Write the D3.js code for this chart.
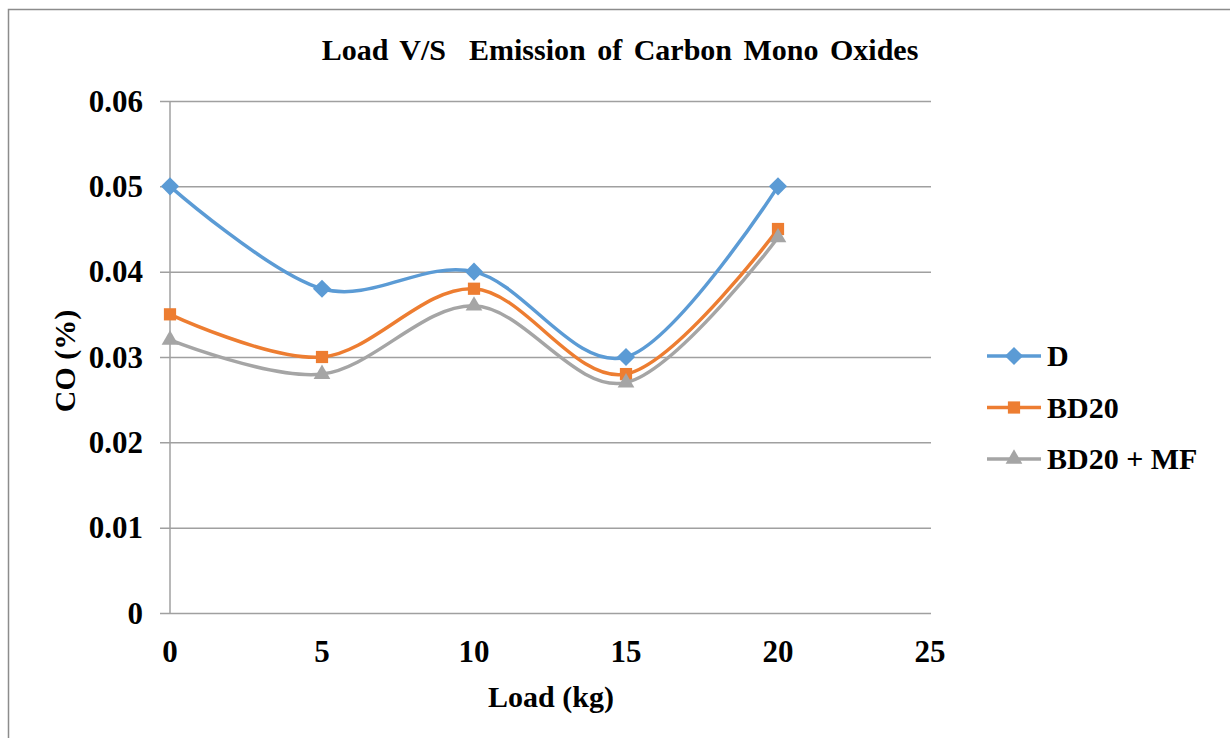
<!DOCTYPE html>
<html>
<head>
<meta charset="utf-8">
<script src="https://cdn.jsdelivr.net/npm/d3@7"></script>
<style>
  body { margin: 0; background: #fff; }
  svg { display: block; }
  text { font-family: "Liberation Serif", "Times New Roman", serif; font-weight: bold; fill: #000; }
</style>
</head>
<body>
<div id="chart"></div>
<script>
// data
const loads = [0, 5, 10, 15, 20];
const seriesNames = ["D", "BD20", "BD20 + MF"];
const dValues = [0.050, 0.038, 0.040, 0.030, 0.050];
const bd20Values = [0.035, 0.030, 0.038, 0.028, 0.045];
const bd20mfValues = [0.032, 0.028, 0.036, 0.027, 0.044];
const yTicks = [0, 0.01, 0.02, 0.03, 0.04, 0.05, 0.06];
const xTicks = [0, 5, 10, 15, 20, 25];
const colors = ["#5B9BD5", "#ED7D31", "#A5A5A5"];
const symbols = [d3.symbolDiamond2, d3.symbolSquare2, d3.symbolTriangle2];
const symSizes = [210, 190, 200];

var width = 1230,
  height = 738,
  margin = { top: 101, right: 300, bottom: 125, left: 170 };

const series = seriesNames.map((name, i) => ({
  name: name,
  values: [dValues, bd20Values, bd20mfValues][i].map((v, j) => ({ x: loads[j], y: v }))
}));

var svg = d3.select("#chart") // create the SVG
  .append("svg")
  .attr("width", width)
  .attr("height", height);

svg.append("rect") // chart frame
  .attr("x", 8.5)
  .attr("y", 9.5)
  .attr("width", width + 20)
  .attr("height", height + 20)
  .attr("fill", "none")
  .attr("stroke", "#8c8c8c")
  .attr("stroke-width", 1.5);

const x = d3.scaleLinear() // x axis scale
  .domain([0, 25])
  .range([margin.left, width - margin.right]);

var y = d3.scaleLinear() // y axis scale
  .domain([0, 0.06])
  .range([height - margin.bottom, margin.top]);

svg.append("g") // gridlines + y ticks
  .attr("transform", `translate(${margin.left},0)`)
  .call(d3.axisLeft(y).tickValues(yTicks).tickFormat(""))
  .call(g => g.select(".domain").remove())
  .call(g => g.selectAll(".tick line")
    .attr("x1", -10)
    .attr("x2", x(25) + 1 - margin.left)
    .attr("stroke", "#a0a0a0")
    .attr("stroke-width", 1.5));

svg.selectAll(".ylab") // y tick labels
  .data(yTicks)
  .enter()
  .append("text")
  .attr("class", "ylab")
  .attr("x", 143)
  .attr("y", d => y(d))
  .attr("dy", "0.34em")
  .attr("text-anchor", "end")
  .style("font-size", "31px")
  .text(d => d);

svg.append("line") // y axis line
  .attr("x1", margin.left)
  .attr("x2", margin.left)
  .attr("y1", y(0.06))
  .attr("y2", y(0))
  .attr("stroke", "#a0a0a0")
  .attr("stroke-width", 1.5);

svg.selectAll(".xlab") // x tick labels
  .data(xTicks)
  .enter()
  .append("text")
  .attr("class", "xlab")
  .attr("x", d => x(d))
  .attr("y", 662)
  .attr("text-anchor", "middle")
  .style("font-size", "31px")
  .text(d => d);

svg.append("text") // title
  .attr("x", 620)
  .attr("y", 60)
  .attr("text-anchor", "middle")
  .style("font-size", "30px")
  .style("word-spacing", "4px")
  .style("white-space", "pre")
  .text("Load V/S  Emission of Carbon Mono Oxides");

svg.append("text") // x axis label
  .attr("x", 551)
  .attr("y", 707)
  .attr("text-anchor", "middle")
  .style("font-size", "30px")
  .text("Load (kg)");

svg.append("text") // y axis label
  .attr("transform", "translate(75,361) rotate(-90)")
  .attr("text-anchor", "middle")
  .style("font-size", "30px")
  .text("CO (%)");

const line = d3.line()
  .x(d => x(d.x))
  .y(d => y(d.y))
  .curve(d3.curveCardinal.tension(0));

const groups = svg.selectAll(".series") // insert lines
  .data(series)
  .enter()
  .append("g")
  .attr("class", "series");

groups.append("path")
  .attr("d", d => line(d.values))
  .attr("fill", "none")
  .attr("stroke", (d, i) => colors[i])
  .attr("stroke-width", 3.5);

groups.each(function(s, i) { // markers
  d3.select(this).selectAll("path.mark")
    .data(s.values)
    .enter()
    .append("path")
    .attr("class", "mark")
    .attr("transform", d => `translate(${x(d.x)},${y(d.y)})`)
    .attr("d", d3.symbol().type(symbols[i]).size(symSizes[i]))
    .attr("fill", colors[i]);
});

// legend
const legend = svg.selectAll(".legend")
  .data(seriesNames)
  .enter()
  .append("g")
  .attr("class", "legend")
  .attr("transform", (d, i) => `translate(987,${356 + i * 51.5})`);

legend.append("line")
  .attr("x1", 0)
  .attr("x2", 54)
  .attr("stroke", (d, i) => colors[i])
  .attr("stroke-width", 3.5);

legend.append("path")
  .attr("transform", "translate(27,0)")
  .attr("d", (d, i) => d3.symbol().type(symbols[i]).size(symSizes[i])())
  .attr("fill", (d, i) => colors[i]);

legend.append("text")
  .attr("x", 60)
  .attr("dy", "0.34em")
  .style("font-size", "30px")
  .text(d => d);
</script>
</body>
</html>
